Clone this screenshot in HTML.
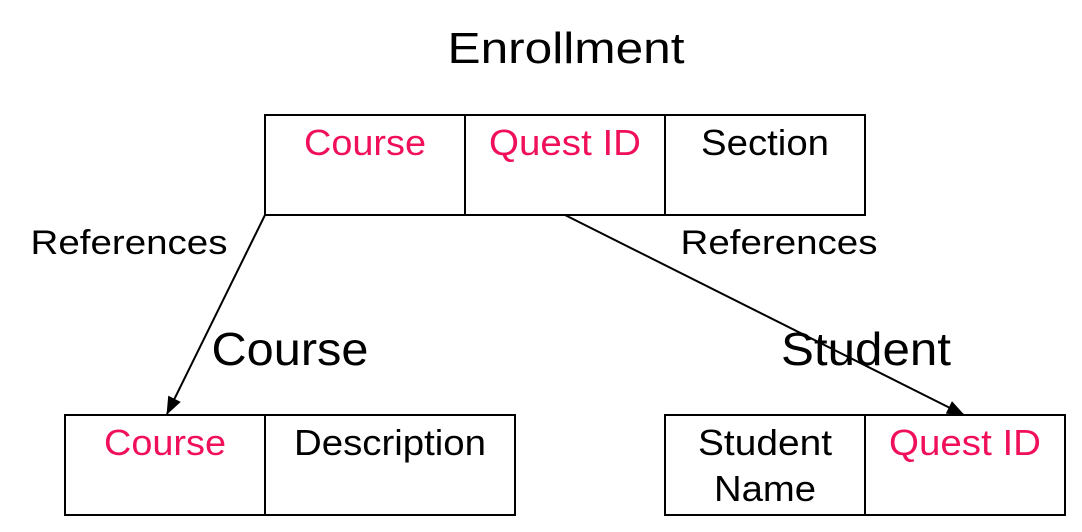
<!DOCTYPE html>
<html><head><meta charset="utf-8"><style>
html,body{margin:0;padding:0;background:#fff;width:1082px;height:532px;overflow:hidden}
svg text{font-family:"Liberation Sans",Arial,sans-serif}
</style></head><body>
<svg width="1082" height="532" viewBox="0 0 1082 532" xmlns="http://www.w3.org/2000/svg">
<defs><marker id="a" markerWidth="18" markerHeight="14" refX="17" refY="7" orient="auto" markerUnits="userSpaceOnUse"><path d="M0,0 L18,7 L0,14 Z" fill="#000"/></marker></defs>
<g fill="none" stroke="#000" stroke-width="2">
<rect x="265" y="115" width="600" height="100"/>
<line x1="465" y1="115" x2="465" y2="215"/>
<line x1="665" y1="115" x2="665" y2="215"/>
<rect x="65" y="415" width="450" height="100"/>
<line x1="265" y1="415" x2="265" y2="515"/>
<rect x="665" y="415" width="400" height="100"/>
<line x1="865" y1="415" x2="865" y2="515"/>
<line x1="265" y1="215" x2="167" y2="414" marker-end="url(#a)"/>
<line x1="565" y1="215" x2="964" y2="415" marker-end="url(#a)"/>
</g>
<g font-size="36" text-anchor="middle" lengthAdjust="spacingAndGlyphs">
<text x="566" y="63" font-size="44" textLength="237" lengthAdjust="spacingAndGlyphs">Enrollment</text>
<text x="365" y="155" fill="#f0105a" textLength="122" lengthAdjust="spacingAndGlyphs">Course</text>
<text x="565" y="155" fill="#f0105a" textLength="152" lengthAdjust="spacingAndGlyphs">Quest ID</text>
<text x="765" y="155" textLength="128" lengthAdjust="spacingAndGlyphs">Section</text>
<text x="165" y="455" fill="#f0105a" textLength="122" lengthAdjust="spacingAndGlyphs">Course</text>
<text x="390" y="455" textLength="192" lengthAdjust="spacingAndGlyphs">Description</text>
<text x="765" y="455" textLength="134" lengthAdjust="spacingAndGlyphs">Student</text>
<text x="765" y="501" textLength="102" lengthAdjust="spacingAndGlyphs">Name</text>
<text x="965" y="455" fill="#f0105a" textLength="152" lengthAdjust="spacingAndGlyphs">Quest ID</text>
<text x="290" y="365" font-size="46" textLength="157" lengthAdjust="spacingAndGlyphs">Course</text>
<text x="866" y="365" font-size="46" textLength="170" lengthAdjust="spacingAndGlyphs">Student</text>
<text x="129" y="254" font-size="34" textLength="197" lengthAdjust="spacingAndGlyphs">References</text>
<text x="779" y="254" font-size="34" textLength="197" lengthAdjust="spacingAndGlyphs">References</text>
</g>
</svg>
</body></html>
